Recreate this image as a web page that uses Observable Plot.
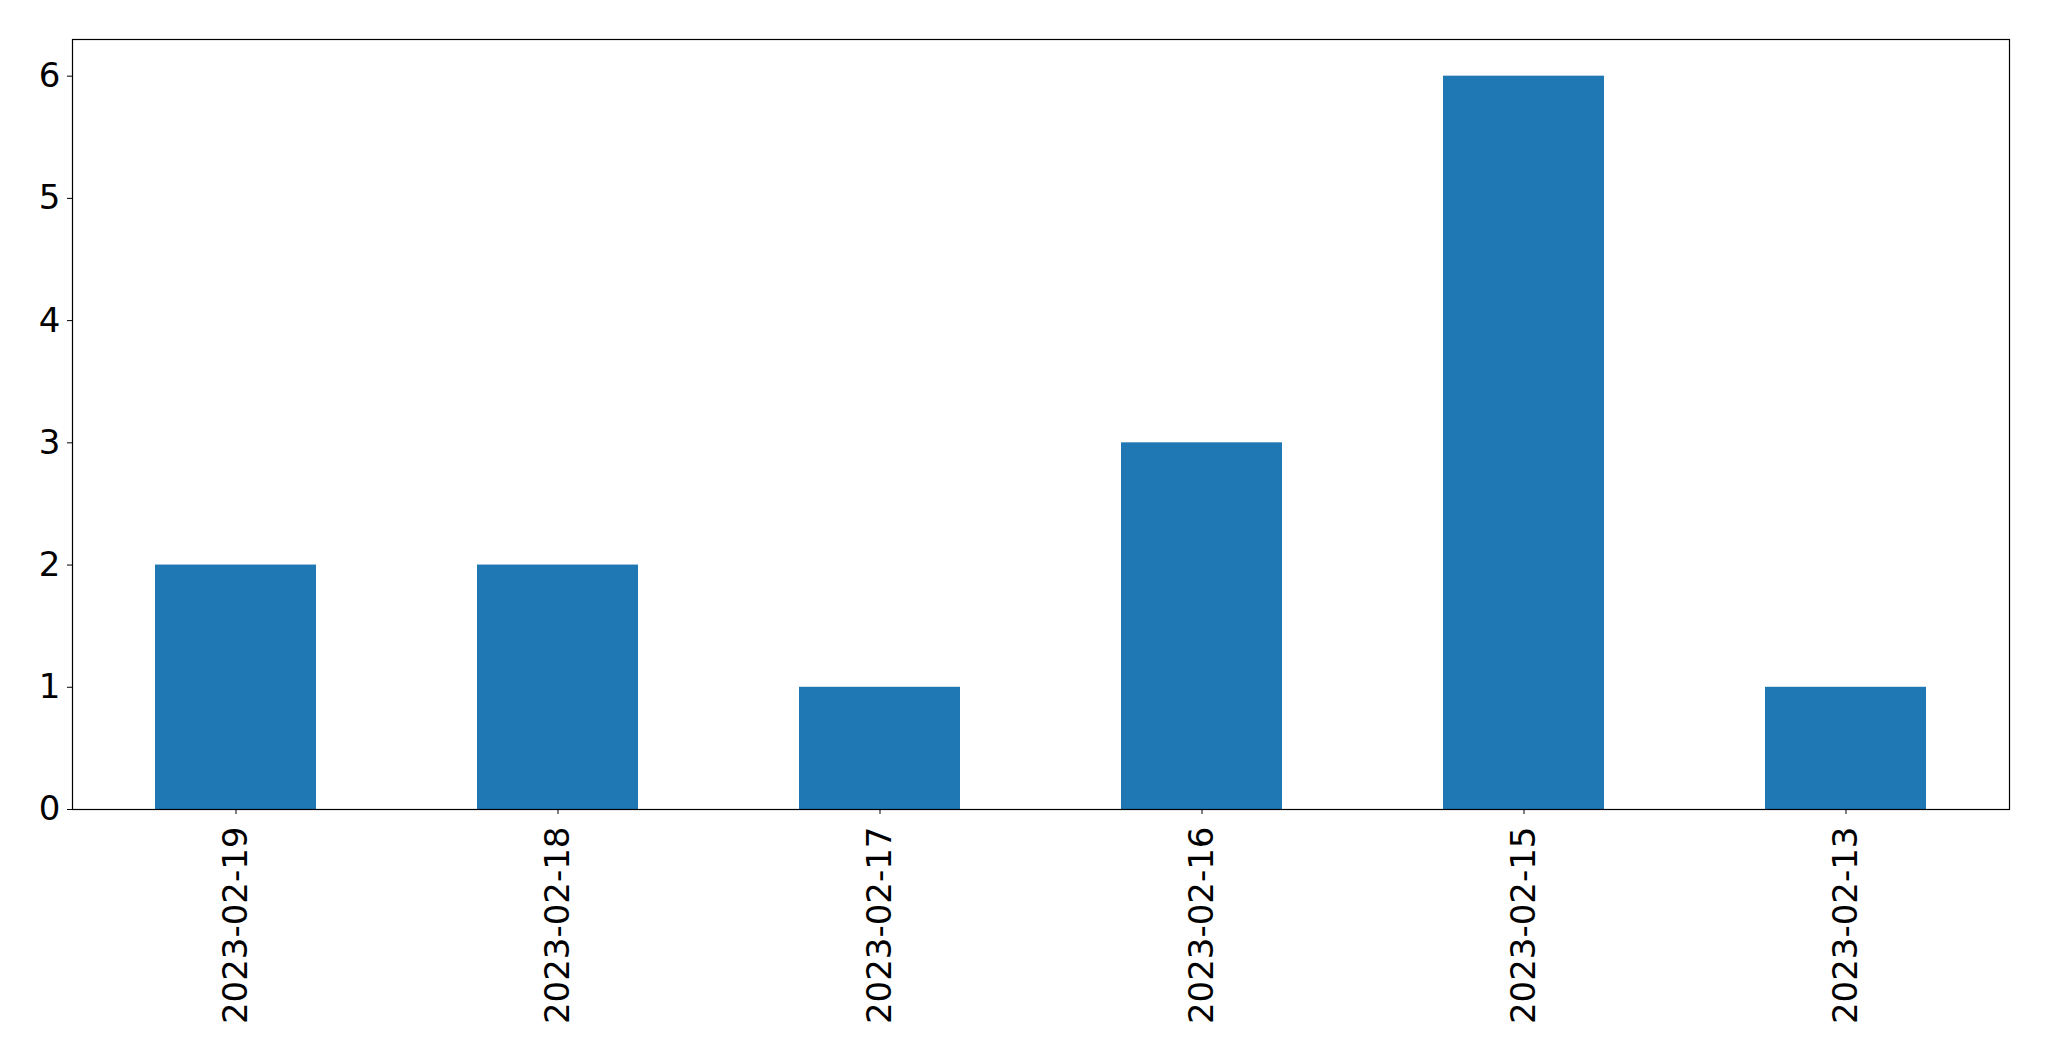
<!DOCTYPE html>
<html>
<head>
<meta charset="utf-8">
<script src="https://cdn.jsdelivr.net/npm/d3@7"></script>
<script src="https://cdn.jsdelivr.net/npm/@observablehq/plot@0.6"></script>
<style>
  html, body { margin: 0; padding: 0; background: #fff; }
  #chart svg { display: block; }
</style>
</head>
<body>
<div id="chart"></div>
<script>
const dates = ["2023-02-19", "2023-02-18", "2023-02-17", "2023-02-16", "2023-02-15", "2023-02-13"];
const counts = [2, 2, 1, 3, 6, 1];
const yTicks = [0, 1, 2, 3, 4, 5, 6];

const data = dates.map((d, i) => ({date: d, count: counts[i]}));

const chart = Plot.plot({
  width: 2049,
  height: 1061,
  marginTop: 39,
  marginLeft: 72,
  marginRight: 40,
  marginBottom: 252,
  style: {fontFamily: "DejaVu Sans", fontSize: "34px", color: "black", background: "white"},
  x: {domain: dates, type: "band", paddingInner: 0.5, paddingOuter: 0.25, label: null},
  y: {domain: [0, 6.3], label: null},
  marks: [
    Plot.barY(data, {x: "date", y: "count", fill: "#1f77b4"}),
    Plot.axisY({ticks: yTicks, tickFormat: "d", tickSize: 5, tickPadding: 7, fontSize: 34, label: null, stroke: "black"}),
    Plot.axisX({tickSize: 5, tickPadding: 12, tickRotate: -90, fontSize: 34, label: null, stroke: "black"}),
    Plot.frame({stroke: "black", strokeWidth: 1.2})
  ]
});
document.getElementById("chart").appendChild(chart);
</script>
</body>
</html>
